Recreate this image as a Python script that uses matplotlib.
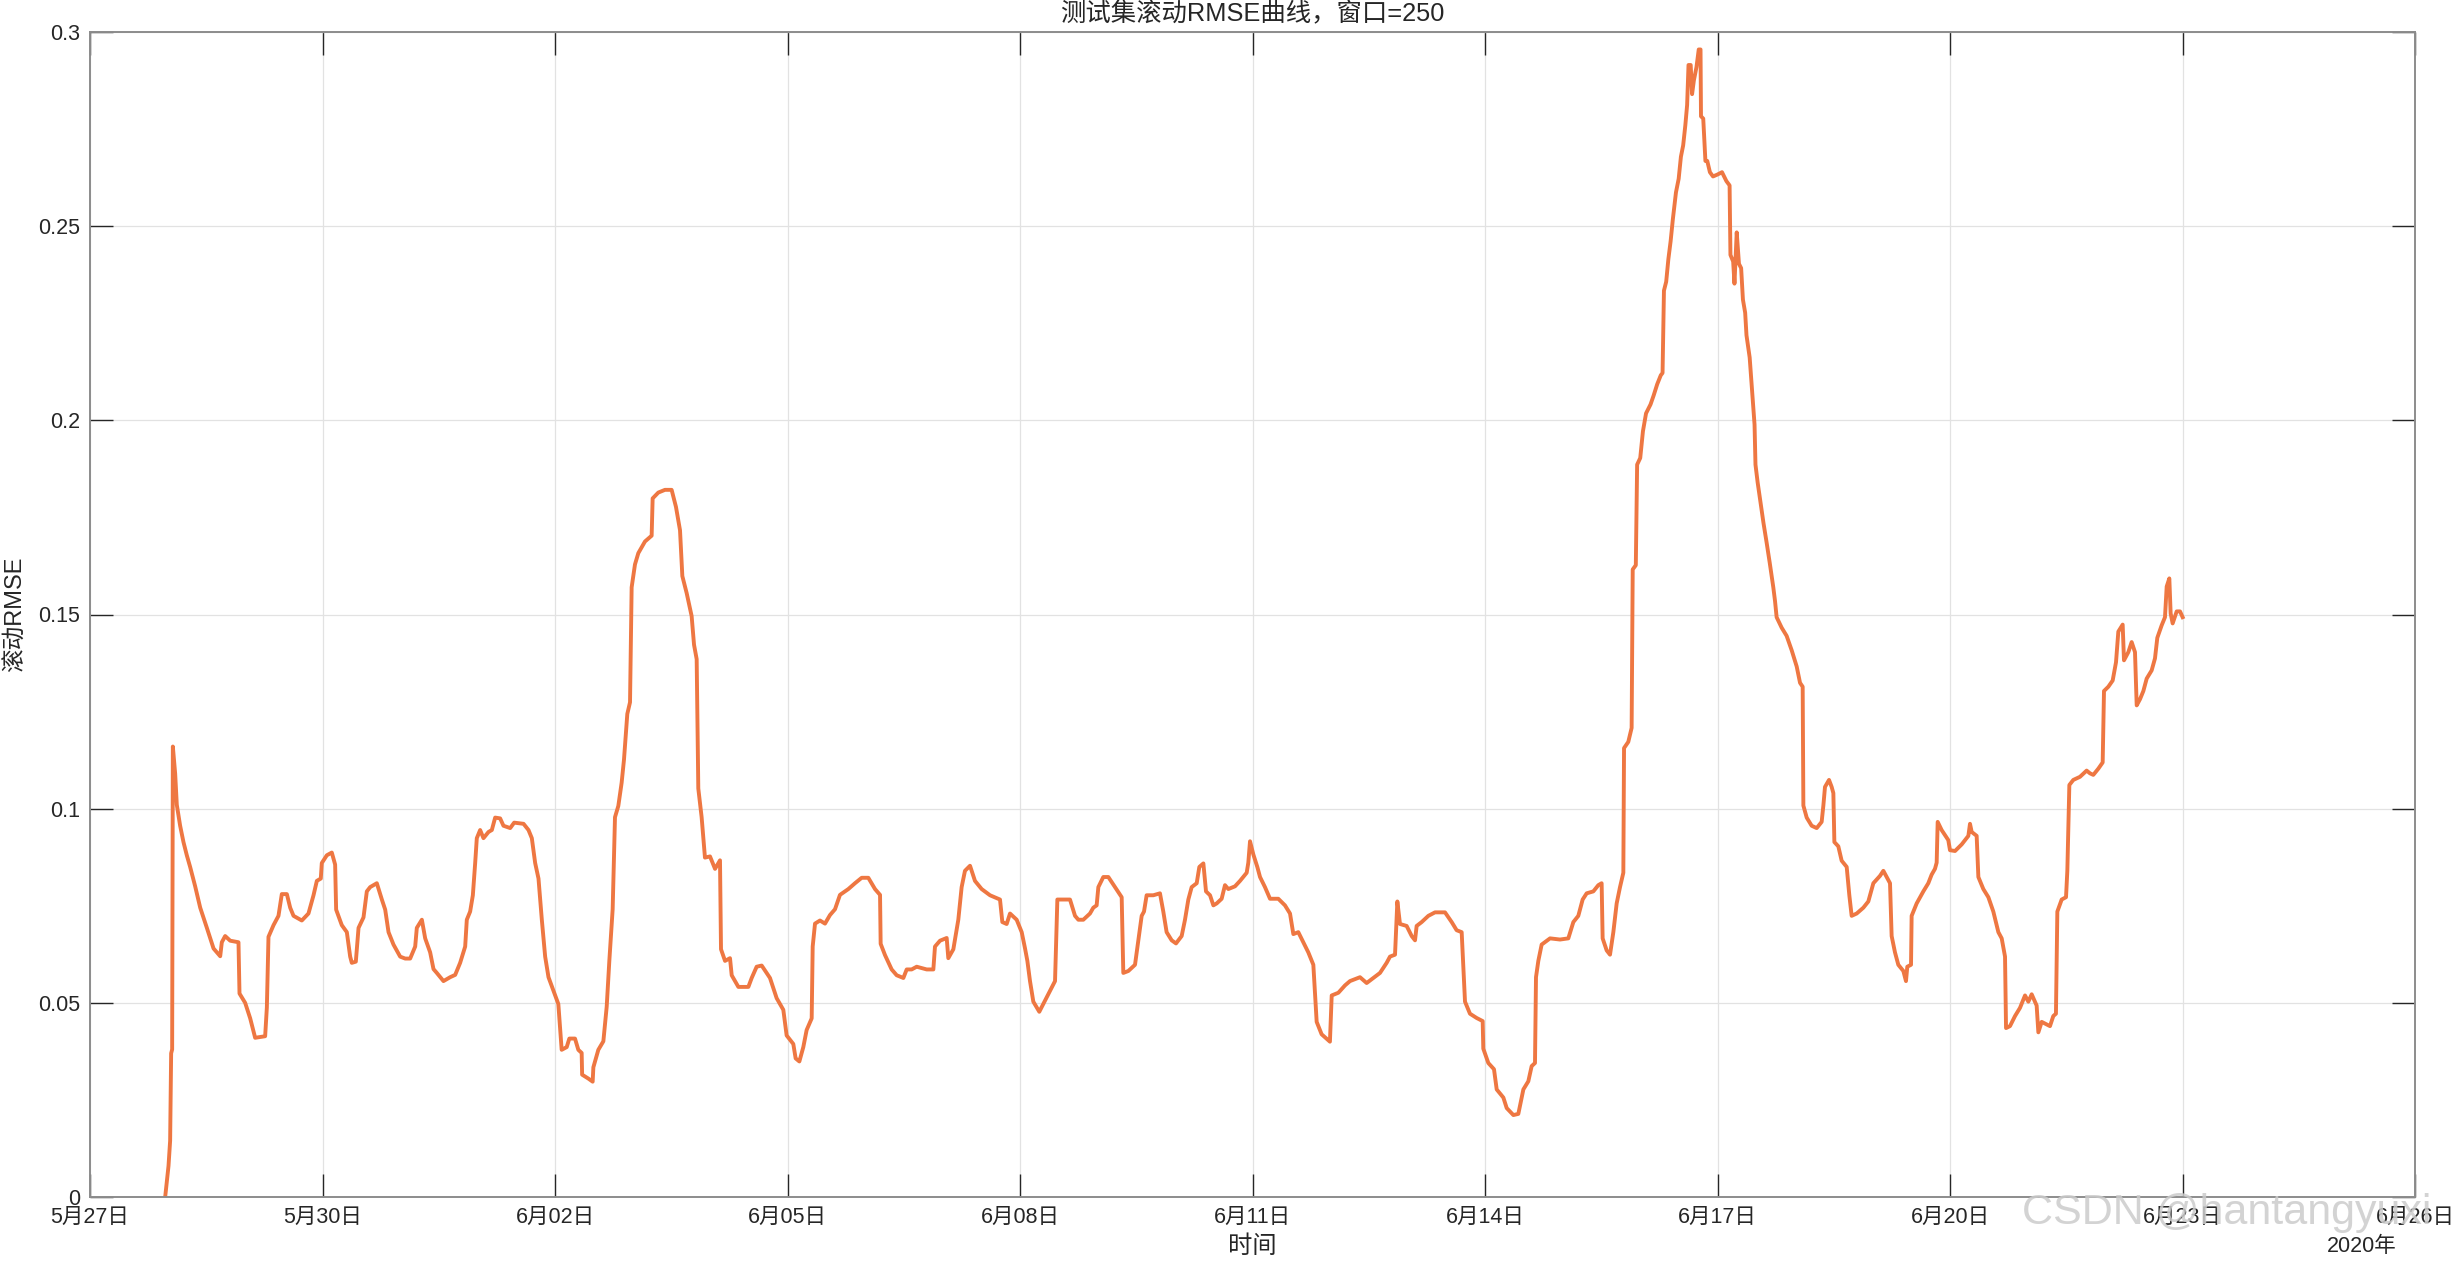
import pandas as pd
import matplotlib
matplotlib.use('Agg')
import matplotlib.pyplot as plt

plt.rcParams['font.family'] = ['Liberation Sans', 'Noto Sans CJK SC', 'DejaVu Sans']

# 数据: 距 2020-05-27 的天数, 滚动RMSE
days = [
    0.970, 0.991, 1.013, 1.034, 1.047, 1.060, 1.069, 1.099, 1.120, 1.163, 1.206, 1.249, 1.292, 1.357,
    1.422, 1.508, 1.594, 1.680, 1.701, 1.744, 1.809, 1.916, 1.929, 2.002, 2.067, 2.131, 2.260, 2.282,
    2.303, 2.368, 2.432, 2.475, 2.540, 2.583, 2.626, 2.733, 2.819, 2.884, 2.927, 2.978, 2.991, 3.056,
    3.120, 3.163, 3.176, 3.249, 3.314, 3.357, 3.378, 3.430, 3.465, 3.529, 3.572, 3.615, 3.701, 3.766,
    3.809, 3.852, 3.916, 4.002, 4.067, 4.131, 4.196, 4.217, 4.282, 4.325, 4.389, 4.432, 4.475, 4.561,
    4.647, 4.712, 4.776, 4.841, 4.862, 4.905, 4.940, 4.970, 4.991, 5.034, 5.077, 5.142, 5.185, 5.228,
    5.292, 5.335, 5.422, 5.473, 5.594, 5.658, 5.701, 5.744, 5.787, 5.830, 5.873, 5.916,
    6.043, 6.086, 6.151, 6.185, 6.258, 6.301, 6.344, 6.350, 6.430, 6.486, 6.495, 6.559, 6.624, 6.667,
    6.701, 6.744, 6.774, 6.817, 6.860, 6.890, 6.933, 6.968, 6.989, 7.032, 7.075, 7.161, 7.247, 7.260,
    7.333, 7.419, 7.505, 7.561, 7.613, 7.643, 7.699, 7.763, 7.794, 7.828, 7.849, 7.892, 7.935, 8.000,
    8.065, 8.129, 8.142, 8.194, 8.258, 8.280, 8.366, 8.495, 8.538, 8.602, 8.667, 8.774, 8.860, 8.946,
    8.989, 9.075, 9.105, 9.153, 9.204, 9.247, 9.312, 9.325, 9.355, 9.419, 9.484, 9.548, 9.613, 9.677,
    9.785, 9.871, 9.957, 10.043, 10.129, 10.194, 10.202, 10.258, 10.344, 10.409, 10.495, 10.538,
    10.602, 10.667, 10.796, 10.882, 10.903, 10.968, 11.054, 11.075, 11.140,
    11.204, 11.247, 11.290, 11.355, 11.419, 11.505, 11.613, 11.742, 11.772, 11.828, 11.871, 11.957,
    12.022, 12.065, 12.095, 12.129, 12.172, 12.249, 12.344, 12.452, 12.482, 12.645, 12.710, 12.753,
    12.817, 12.903, 12.946, 12.989, 13.011, 13.075, 13.140, 13.226, 13.312, 13.333, 13.398, 13.484,
    13.527, 13.570, 13.600, 13.634, 13.720, 13.806, 13.849, 13.892, 13.957, 14.013, 14.086, 14.129,
    14.172, 14.215, 14.280, 14.314, 14.366, 14.400, 14.452, 14.495, 14.538, 14.602, 14.645, 14.688,
    14.774, 14.839, 14.925, 14.946, 14.968, 15.011, 15.062, 15.097, 15.161, 15.226, 15.333, 15.419,
    15.484, 15.527, 15.591, 15.656, 15.720, 15.785, 15.828, 15.892, 15.999, 16.022, 16.108, 16.194,
    16.258, 16.387,
    16.473, 16.559, 16.645, 16.731, 16.774, 16.839, 16.869, 16.903, 16.989, 17.054, 17.097, 17.118,
    17.183, 17.269, 17.355, 17.484, 17.570, 17.634, 17.699, 17.742, 17.806, 17.892, 17.970, 17.978,
    18.043, 18.116, 18.151, 18.237, 18.280, 18.366, 18.430, 18.495, 18.559, 18.602, 18.645, 18.658,
    18.688, 18.731, 18.839, 18.968, 19.075, 19.140, 19.204, 19.260, 19.312, 19.398, 19.462, 19.505,
    19.518, 19.570, 19.613, 19.656, 19.699, 19.742, 19.785, 19.794, 19.849, 19.892,
    19.906, 19.946, 19.963, 20.003, 20.038, 20.078, 20.136, 20.176, 20.222, 20.268, 20.291, 20.309,
    20.338, 20.366, 20.395, 20.424, 20.464, 20.499, 20.528, 20.557, 20.585, 20.608, 20.626, 20.654,
    20.672, 20.695, 20.729, 20.758, 20.781, 20.787, 20.816, 20.844, 20.868, 20.902, 20.942, 21.000,
    21.058, 21.115, 21.156, 21.167, 21.202, 21.219, 21.248, 21.277, 21.305, 21.328, 21.357, 21.374,
    21.415, 21.444, 21.478, 21.490, 21.518, 21.547, 21.593, 21.634, 21.674, 21.720,
    21.742, 21.763, 21.828, 21.892, 21.957, 22.022, 22.065, 22.099, 22.108, 22.151, 22.215, 22.280,
    22.344, 22.366, 22.387, 22.439, 22.473, 22.495, 22.508, 22.559, 22.602, 22.667, 22.701, 22.731,
    22.796, 22.882, 22.946, 23.011, 23.097, 23.140, 23.183, 23.226, 23.247, 23.290, 23.333, 23.398,
    23.432, 23.449, 23.497, 23.505, 23.570, 23.656, 23.720, 23.763, 23.806, 23.828, 23.841, 23.892,
    23.978, 24.000, 24.065, 24.151, 24.237, 24.258, 24.280, 24.344, 24.366, 24.430, 24.495, 24.559,
    24.624, 24.667, 24.710, 24.723, 24.774, 24.839, 24.903, 24.968, 25.011, 25.054, 25.118, 25.140,
    25.183, 25.290, 25.333, 25.367, 25.385, 25.441, 25.497, 25.514, 25.540, 25.591, 25.677, 25.763,
    25.806, 25.849, 25.914, 25.970, 25.987, 26.043, 26.099, 26.142, 26.172, 26.228, 26.245, 26.301,
    26.344, 26.387, 26.409, 26.452, 26.495, 26.538, 26.602, 26.645, 26.675, 26.731, 26.774, 26.796,
    26.830, 26.847, 26.873, 26.925, 26.968, 27.002,
]

rmse = [
    0.0, 0.004, 0.008, 0.0145, 0.037, 0.038, 0.116, 0.109, 0.101, 0.0956, 0.0914, 0.088, 0.085, 0.080,
    0.0745, 0.0693, 0.064, 0.062, 0.0656, 0.0672, 0.066, 0.0656, 0.0524, 0.050, 0.046, 0.041, 0.0414, 0.0488,
    0.067, 0.070, 0.0724, 0.078, 0.078, 0.0745, 0.0724, 0.0712, 0.073, 0.0777, 0.0814, 0.082, 0.086, 0.088,
    0.0887, 0.0856, 0.0740, 0.070, 0.0682, 0.0619, 0.0603, 0.0606, 0.0693, 0.072, 0.0787, 0.0798, 0.0808, 0.0766,
    0.074, 0.0682, 0.065, 0.0619, 0.0614, 0.0614, 0.0645, 0.0693, 0.0714, 0.0666, 0.063, 0.0587, 0.0577, 0.0556,
    0.0566, 0.0572, 0.0603, 0.0645, 0.0714, 0.0735, 0.0777, 0.086, 0.0924, 0.0945, 0.0924, 0.094, 0.0945, 0.0977,
    0.0975, 0.0956, 0.095, 0.0964, 0.0961, 0.0945, 0.0924, 0.086, 0.082, 0.0714, 0.0619, 0.0566,
    0.0497, 0.0379, 0.0386, 0.0408, 0.0408, 0.0379, 0.0371, 0.0315, 0.0305, 0.0297, 0.0334, 0.0379, 0.0401, 0.0490,
    0.0608, 0.0741, 0.0978, 0.1007, 0.1067, 0.1126, 0.1244, 0.1274, 0.1570, 0.1629, 0.1658, 0.1688, 0.1703, 0.1799,
    0.1814, 0.1821, 0.1821, 0.1777, 0.1717, 0.1599, 0.1555, 0.1496, 0.1422, 0.1385, 0.1052, 0.0978, 0.0874, 0.0877,
    0.0845, 0.0867, 0.0638, 0.0608, 0.0615, 0.0571, 0.0541, 0.0541, 0.0564, 0.0593, 0.0596, 0.0564, 0.0512, 0.0482,
    0.0416, 0.0394, 0.0357, 0.0349, 0.0386, 0.0430, 0.0460, 0.0645, 0.0704, 0.0712, 0.0704, 0.0726, 0.0741, 0.0778,
    0.0793, 0.0808, 0.0822, 0.0822, 0.0793, 0.0778, 0.0652, 0.0623, 0.0586, 0.0571, 0.0564, 0.0586,
    0.0586, 0.0593, 0.0586, 0.0586, 0.0645, 0.0660, 0.0667, 0.0615, 0.0638,
    0.0714, 0.0798, 0.084, 0.0853, 0.0814, 0.0793, 0.0777, 0.0766, 0.0708, 0.0703, 0.073, 0.0714,
    0.0682, 0.064, 0.0608, 0.0556, 0.0503, 0.0477, 0.0514, 0.0556, 0.0766, 0.0766, 0.0724, 0.0714,
    0.0714, 0.073, 0.0745, 0.0751, 0.0798, 0.0824, 0.0824, 0.0798, 0.0772, 0.0577, 0.0582, 0.0598,
    0.0661, 0.0724, 0.0735, 0.0777, 0.0777, 0.0782, 0.0735, 0.0682, 0.0661, 0.0653, 0.0672, 0.0714,
    0.0766, 0.0798, 0.0808, 0.085, 0.0859, 0.0787, 0.0777, 0.0751, 0.0756, 0.0768, 0.0803, 0.0793,
    0.08, 0.0814, 0.0835, 0.0861, 0.0916, 0.0882, 0.085, 0.0824, 0.0798, 0.0768, 0.0768, 0.0751,
    0.073, 0.0677, 0.0682, 0.0656, 0.063, 0.0598, 0.0451, 0.0419, 0.04, 0.0519, 0.0526, 0.0545,
    0.0556, 0.0566,
    0.0551, 0.0564, 0.0577, 0.0603, 0.0619, 0.0624, 0.0761, 0.0703, 0.0698, 0.0672, 0.0661, 0.0698,
    0.0708, 0.0724, 0.0733, 0.0733, 0.0708, 0.0687, 0.0682, 0.0503, 0.0472, 0.0461, 0.0453, 0.0382,
    0.0345, 0.0329, 0.0277, 0.0256, 0.0229, 0.0211, 0.0214, 0.0277, 0.0298, 0.0337, 0.0345, 0.0566,
    0.0608, 0.065, 0.0666, 0.0663, 0.0666, 0.0708, 0.0724, 0.0766, 0.0782, 0.0787, 0.0803, 0.0808,
    0.0666, 0.0635, 0.0624, 0.0682, 0.0756, 0.0798, 0.0835, 0.1156, 0.1172, 0.1208,
    0.1616, 0.1627, 0.1886, 0.1903, 0.1972, 0.2018, 0.2041, 0.2064, 0.2093, 0.2116, 0.2122, 0.2334,
    0.2357, 0.2415, 0.2461, 0.2518, 0.2587, 0.2622, 0.2679, 0.2708, 0.276, 0.2812, 0.2915, 0.2915,
    0.284, 0.2875, 0.291, 0.2955, 0.2955, 0.2783, 0.2777, 0.2668, 0.2668, 0.2639, 0.2628, 0.2633,
    0.2639, 0.2616, 0.2605, 0.2426, 0.2409, 0.2352, 0.2484, 0.2403, 0.2392, 0.2311, 0.2277, 0.2219,
    0.2162, 0.2081, 0.1989, 0.1886, 0.184, 0.18, 0.1736, 0.1685, 0.1633, 0.157,
    0.1535, 0.1493, 0.1466, 0.1445, 0.1408, 0.1366, 0.1324, 0.1314, 0.1008, 0.0977, 0.0956, 0.095,
    0.0966, 0.1008, 0.1056, 0.1074, 0.1056, 0.104, 0.0914, 0.0903, 0.0866, 0.085, 0.0777, 0.0724,
    0.073, 0.0745, 0.0761, 0.0808, 0.0827, 0.084, 0.0824, 0.0808, 0.0672, 0.063, 0.0598, 0.0582,
    0.0556, 0.0593, 0.0598, 0.0724, 0.0756, 0.0787, 0.0808, 0.083, 0.0845, 0.0861, 0.0966, 0.0945,
    0.0919, 0.0893, 0.0891, 0.0908, 0.093, 0.0961, 0.094, 0.093, 0.0824, 0.0793, 0.0772, 0.0735,
    0.0682, 0.0666, 0.0619, 0.0435, 0.044, 0.0466, 0.0487, 0.0519, 0.0503, 0.0522, 0.0493, 0.0424,
    0.0451, 0.044, 0.0466, 0.0472, 0.0735, 0.0766, 0.0772, 0.084, 0.1061, 0.1074, 0.1082, 0.1098,
    0.1091, 0.1087, 0.1103, 0.1119, 0.1303, 0.1314, 0.133, 0.1377, 0.1456, 0.1474, 0.1382, 0.1403,
    0.1429, 0.1403, 0.1266, 0.1282, 0.1303, 0.1335, 0.1356, 0.1387, 0.144, 0.1472, 0.1493, 0.1572,
    0.1593, 0.1503, 0.1477, 0.1508, 0.1508, 0.1493,
]

xtick_days = [0, 3, 6, 9, 12, 15, 18, 21, 24, 27, 30]
xtick_labels = ['5月27日', '5月30日', '6月02日', '6月05日', '6月08日', '6月11日',
                '6月14日', '6月17日', '6月20日', '6月23日', '6月26日']
ytick_vals = [0, 0.05, 0.1, 0.15, 0.2, 0.25, 0.3]
ytick_labels = ['0', '0.05', '0.1', '0.15', '0.2', '0.25', '0.3']

start = pd.Timestamp('2020-05-27')
t = start + pd.to_timedelta(days, unit='D')

W, H = 2456, 1262
fig = plt.figure(figsize=(W / 100, H / 100), dpi=100)
ax = fig.add_axes([90 / W, 65 / H, 2325 / W, 1165 / H])

ax.plot(t, rmse, color='#EE7742', lw=2.8)

ax.set_xlim(start, start + pd.Timedelta(days=30))
ax.set_ylim(0, 0.3)
ax.set_xticks(start + pd.to_timedelta(xtick_days, unit='D'))
ax.set_xticklabels(xtick_labels)
ax.set_yticks(ytick_vals)
ax.set_yticklabels(ytick_labels)

ax.grid(True, color='#e2e2e2', lw=0.9)
ax.tick_params(direction='in', length=16.5, width=1.0, color='#262626',
               top=True, right=True, labelsize=15.5, labelcolor='#262626', pad=7)
for s in ax.spines.values():
    s.set_color('#8c8c8c')
    s.set_linewidth(1.4)

fig.text(1252 / W, 1 - 14 / H, '测试集滚动RMSE曲线，窗口=250', fontsize=18.3,
         color='#262626', ha='center', va='center')
fig.text(1252 / W, 1 - 1247 / H, '时间', fontsize=17.5, color='#262626',
         ha='center', va='center')
fig.text(16 / W, 1 - 614 / H, '滚动RMSE', fontsize=17, color='#262626',
         ha='center', va='center', rotation=90)
fig.text(2397 / W, 1 - 1247 / H, '2020年', fontsize=15.5, color='#262626',
         ha='right', va='center')

# 水印
fig.text(2022 / W, 1 - 1213 / H, 'CSDN @hantangyuxi', fontsize=31,
         color='#cccccc', alpha=0.85, ha='left', va='center', zorder=10)

fig.savefig('out.png', dpi=100)
